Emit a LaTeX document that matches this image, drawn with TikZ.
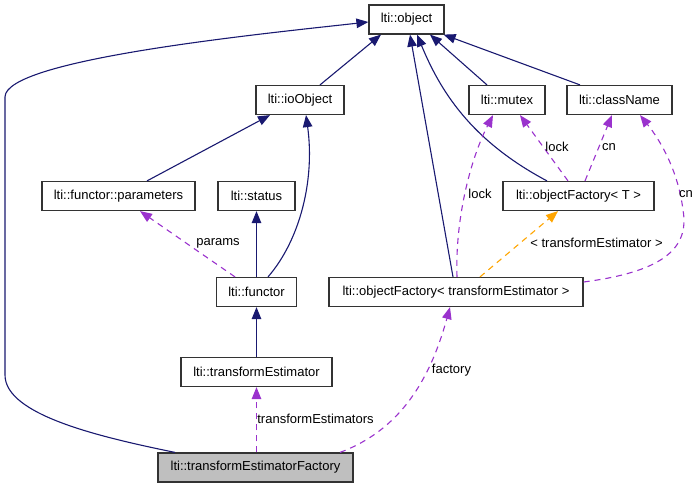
\documentclass[tikz,border=0pt]{standalone}
\usepackage{fontspec}
\setmainfont{Liberation Sans}
\usetikzlibrary{arrows.meta}
\definecolor{navy}{HTML}{191970}
\definecolor{orch}{HTML}{9A32CD}
\definecolor{orng}{HTML}{FFA500}
\begin{document}
\begin{tikzpicture}[x=1pt,y=-1pt,
  box/.style={draw=black!80, line width=1.2pt, minimum height=29pt, inner sep=0pt,
    font=\fontsize{13}{15}\selectfont, fill=white},
  lbl/.style={inner sep=0pt, font=\fontsize{13}{15}\selectfont},
  inh/.style={draw=navy, line width=1.1pt, -{Triangle[length=12pt,width=9.5pt]}},
  use/.style={draw=orch, line width=1.1pt, dash pattern=on 6pt off 5pt,
    -{Triangle[length=12pt,width=9.5pt,fill=orch]}},
  tmpl/.style={draw=orng, line width=1.1pt, dash pattern=on 6pt off 5pt,
    -{Triangle[length=12pt,width=9.5pt,fill=orng]}}]
\useasboundingbox (0,0) rectangle (699,488);
% nodes
\node[box, minimum width=75pt]  (obj)   at (406.5,19.5) {lti::object};
\node[box, minimum width=88pt]  (io)    at (300,100)    {lti::ioObject};
\node[box, minimum width=76pt]  (mutex) at (507,100)    {lti::mutex};
\node[box, minimum width=105pt] (cname) at (619.5,100)  {lti::className};
\node[box, minimum width=153pt] (par)   at (118.5,196)  {lti::functor::parameters};
\node[box, minimum width=77pt]  (stat)  at (256.5,196)  {lti::status};
\node[box, minimum width=151pt] (oft)   at (578.5,196)  {lti::objectFactory< T >};
\node[box, minimum width=80pt]  (func)  at (256.5,292)  {lti::functor};
\node[box, minimum width=254pt] (ofte)  at (456,292)    {lti::objectFactory< transformEstimator >};
\node[box, minimum width=151pt] (te)    at (256.5,372)  {lti::transformEstimator};
\node[box, minimum width=195pt, fill=black!25] (tef) at (255.5,467.5) {lti::transformEstimatorFactory};
% inheritance edges
\draw[inh] ([xshift=20pt]io.north) -- ([xshift=-25.5pt]obj.south);
\draw[inh] ([xshift=-20pt]mutex.north) -- ([xshift=23.5pt]obj.south);
\draw[inh] ([xshift=-39.5pt]cname.north) -- ([xshift=-1pt]obj.south east);
\draw[inh] ([xshift=-31.5pt]oft.north) .. controls (470,140) and (440,90) .. ([xshift=10.5pt]obj.south);
\draw[inh] ([xshift=-3pt]ofte.north) -- ([xshift=3.5pt]obj.south);
\draw[inh] ([xshift=-80.5pt]tef.north) .. controls (100,437) and (5,415) .. (5,375)
  -- (5,97) .. controls (5,60) and (250,35) .. ([yshift=-2.5pt]obj.west);
\draw[inh] ([xshift=28.5pt]par.north) -- ([xshift=-30pt]io.south);
\draw[inh] ([xshift=11.5pt]func.north) .. controls (300,240) and (315,180) .. ([xshift=6pt]io.south);
\draw[inh] (func.north) -- (func.north |- stat.south);
\draw[inh] (te.north) -- (te.north |- func.south);
% usage edges
\draw[use] ([xshift=-21.5pt]func.north) -- ([xshift=21.5pt]par.south);
\node[lbl] (lpar) at (218,243) {params};
\draw[use] ([xshift=1pt]tef.north) -- (te.south);
\node[lbl] (lte) at (315.5,419) {transformEstimators};
\draw[use] ([xshift=84.5pt]tef.north) .. controls (400,430) and (430,380) .. ([xshift=-6pt]ofte.south);
\node[lbl] (lfac) at (451.5,370) {factory};
\draw[use] ([xshift=-10.5pt]oft.north) -- ([xshift=13pt]mutex.south);
\node[lbl] (llock1) at (557,147) {lock};
\draw[use] ([xshift=6.5pt]oft.north) -- ([xshift=-7.5pt]cname.south);
\node[lbl] (lcn1) at (609,147) {cn};
\draw[use] ([xshift=1pt]ofte.north) .. controls (455,220) and (470,160) .. ([xshift=-14pt]mutex.south);
\node[lbl] (llock2) at (480,194) {lock};
\draw[use] ([yshift=10pt]ofte.east) .. controls (660,272) and (690,250) .. (683,210)
  .. controls (678,170) and (660,140) .. ([xshift=20.5pt]cname.south);
\node[lbl] (lcn2) at (686,194) {cn};
\draw[tmpl] ([xshift=24pt]ofte.north) -- ([xshift=-20.5pt]oft.south);
\node[lbl] (ltmpl) at (596.5,243) {< transformEstimator >};
\end{tikzpicture}
\end{document}
